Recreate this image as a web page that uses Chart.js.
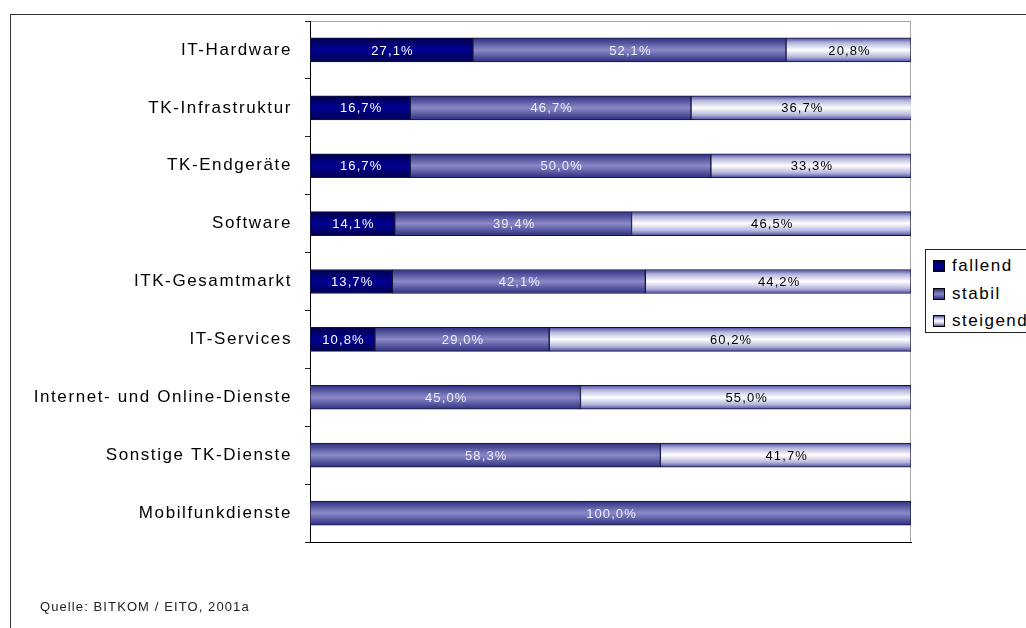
<!DOCTYPE html>
<html>
<head>
<meta charset="utf-8">
<script src="https://cdn.jsdelivr.net/npm/chart.js@4/dist/chart.umd.min.js"></script>
<style>
  body { margin: 0; width: 1026px; height: 628px; overflow: hidden; background: #fff; position: relative; font-family: "Liberation Sans", Arial, sans-serif; }
  #frame { position: absolute; left: 10px; top: 14px; width: 1100px; height: 700px; border: 1px solid #333; }
  #wrap { position: absolute; left: 0; top: 0; width: 1026px; height: 628px; }
  #legend { position: absolute; left: 925px; top: 249px; width: 120px; height: 82px; border: 1px solid #222; background: #fff; }
  .item { position: absolute; left: 7px; font-size: 17px; letter-spacing: 1.5px; color: #000; line-height: 18px; }
  .item span.box { display: inline-block; width: 10px; height: 10px; border: 1px solid #000; margin-right: 7px; vertical-align: -1px; }
  #source { position: absolute; left: 40px; top: 599px; font-size: 13px; letter-spacing: 1.1px; color: #222; }
</style>
</head>
<body>
<div id="frame"></div>
<div id="wrap"><canvas id="bars" width="1026" height="628"></canvas></div>
<div id="legend"></div>
<div id="source">Quelle: BITKOM / EITO, 2001a</div>
<script>
const categories = [
  'IT-Hardware',
  'TK-Infrastruktur',
  'TK-Endgeräte',
  'Software',
  'ITK-Gesamtmarkt',
  'IT-Services',
  'Internet- und Online-Dienste',
  'Sonstige TK-Dienste',
  'Mobilfunkdienste'
];
const seriesNames = ['fallend', 'stabil', 'steigend'];
const fallend  = [27.1, 16.7, 16.7, 14.1, 13.7, 10.8, null, null, null];
const stabil   = [52.1, 46.7, 50.0, 39.4, 42.1, 29.0, 45.0, 58.3, 100.0];
const steigend = [20.8, 36.7, 33.3, 46.5, 44.2, 60.2, 55.0, 41.7, null];

// gradient stops per series: dark edges, lighter middle
const shades = [
  [[0, '#00004d'], [0.5, '#000094'], [1, '#00004d']],
  [[0, '#2e2e80'], [0.5, '#8a8ac8'], [1, '#2e2e80']],
  [[0, '#4a4a9c'], [0.2, '#b4b4dc'], [0.5, '#ffffff'], [0.8, '#b4b4dc'], [1, '#4a4a9c']]
];
const labelColors = ['#ffffff', '#ececf6', '#000000'];
const BAR = 24;

function barFill(series) {
  return (ctx) => {
    const y = ctx.chart.scales.y;
    const yc = (ctx.type === 'data' && y) ? y.getPixelForValue(ctx.dataIndex) : NaN;
    if (!isFinite(yc)) return shades[series][1][1];
    const g = ctx.chart.ctx.createLinearGradient(0, yc - BAR / 2, 0, yc + BAR / 2);
    shades[series].forEach(([p, c]) => g.addColorStop(p, c));
    return g;
  };
}

// html legend with css gradients for the swatches
const legend = document.getElementById('legend');
seriesNames.forEach((name, i) => {
  const stops = shades[i].map(([p, c]) => `${c} ${p * 100}%`).join(', ');
  const div = document.createElement('div');
  div.className = 'item';
  div.style.top = (7 + i * 27.5) + 'px';
  div.innerHTML = `<span class="box" style="background: linear-gradient(to bottom, ${stops})"></span>${name}`;
  legend.appendChild(div);
});

const frameAndText = {
  id: 'frameAndText',
  beforeDraw(chart) {
    const { ctx, chartArea: a } = chart;
    ctx.letterSpacing = '1.6px';
    ctx.save();
    ctx.strokeStyle = '#a8a8a8';
    ctx.lineWidth = 1;
    ctx.strokeRect(a.left + 0.5, a.top + 0.5, a.right - a.left - 1, a.bottom - a.top);
    ctx.restore();
  },
  afterDatasetsDraw(chart) {
    const ctx = chart.ctx;
    ctx.save();
    ctx.letterSpacing = '1.1px';
    ctx.font = '13px "Liberation Sans", Arial, sans-serif';
    ctx.textAlign = 'center';
    ctx.textBaseline = 'middle';
    chart.data.datasets.forEach((ds, i) => {
      chart.getDatasetMeta(i).data.forEach((bar, j) => {
        const v = ds.data[j];
        if (v == null) return;
        ctx.fillStyle = labelColors[i];
        ctx.fillText(v.toFixed(1).replace('.', ',') + '%', (bar.x + bar.base) / 2 + 1, bar.y + 1);
      });
    });
    ctx.restore();
  }
};

const data = {
  labels: categories,
  datasets: [fallend, stabil, steigend].map((values, i) => ({
    label: seriesNames[i],
    data: values,
    backgroundColor: barFill(i),
    borderColor: '#15153a',
    borderWidth: 1,
    borderSkipped: false,
    barThickness: BAR
  }))
};

const config = {
  type: 'bar',
  data: data,
  options: {
    indexAxis: 'y',
    responsive: false,
    animation: false,
    layout: { padding: { top: 21, right: 115, bottom: 86, left: 0 } },
    scales: {
      x: {
        stacked: true,
        min: 0,
        max: 100,
        grid: { display: false },
        ticks: { display: false },
        border: { color: '#000', width: 1 },
        afterFit: (scale) => { scale.height = 0; scale.paddingLeft = 0; scale.paddingRight = 0; }
      },
      y: {
        stacked: true,
        grid: { drawOnChartArea: false, drawTicks: true, tickLength: 5, color: '#222' },
        border: { color: '#000', width: 1 },
        ticks: {
          color: '#000',
          padding: 13,
          font: { family: '"Liberation Sans", Arial, sans-serif', size: 17 }
        },
        afterFit: (scale) => { scale.width = 310; scale.paddingTop = 0; scale.paddingBottom = 0; }
      }
    },
    plugins: {
      legend: { display: false },
      tooltip: { enabled: false }
    }
  },
  plugins: [frameAndText]
};

const barChart = new Chart(document.getElementById('bars'), config);
</script>
</body>
</html>
